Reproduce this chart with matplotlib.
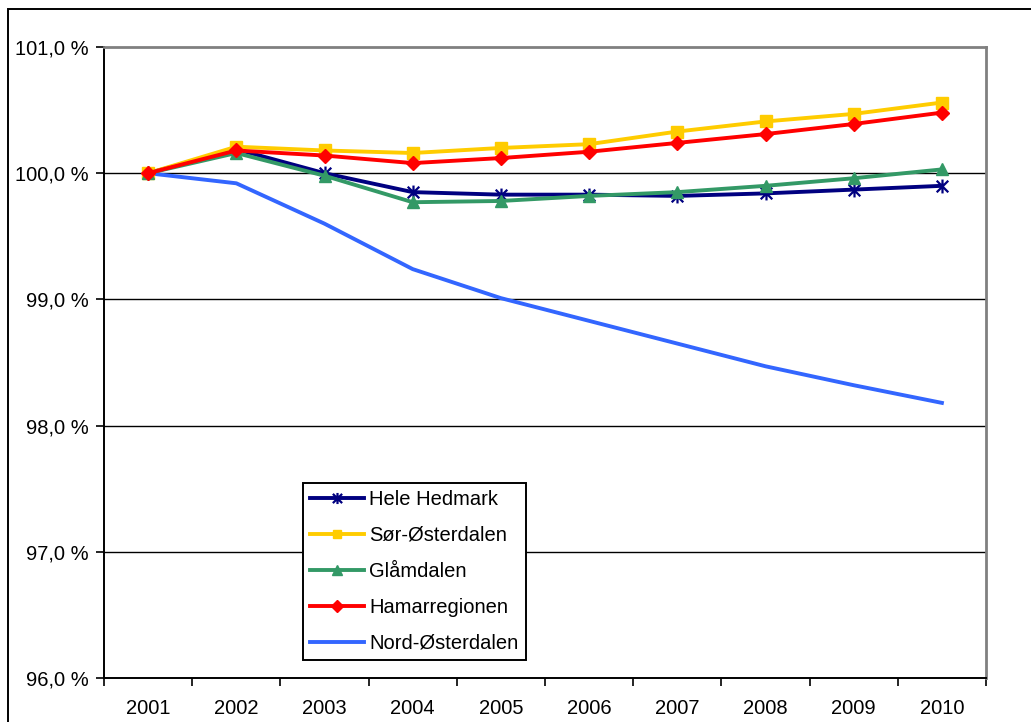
import numpy as np
import matplotlib
matplotlib.use("Agg")
import matplotlib.pyplot as plt
from matplotlib.patches import Rectangle
from matplotlib.path import Path
from matplotlib.ticker import FixedLocator, FuncFormatter

plt.rcParams['font.family'] = ['Liberation Sans', 'DejaVu Sans']

years = ['2001', '2002', '2003', '2004', '2005', '2006', '2007', '2008', '2009', '2010']

hele_hedmark = [100.00, 100.19, 100.00, 99.85, 99.83, 99.83, 99.82, 99.84, 99.87, 99.90]
sor_osterdalen = [100.00, 100.21, 100.18, 100.16, 100.20, 100.23, 100.33, 100.41, 100.47, 100.56]
glamdalen = [100.00, 100.16, 99.98, 99.77, 99.78, 99.82, 99.85, 99.90, 99.96, 100.03]
hamarregionen = [100.00, 100.18, 100.14, 100.08, 100.12, 100.17, 100.24, 100.31, 100.39, 100.48]
nord_osterdalen = [100.00, 99.92, 99.60, 99.24, 99.01, 98.83, 98.65, 98.47, 98.32, 98.18]

x = np.arange(len(years))

# star marker: an X with a vertical stroke through it
star = Path([(-1, -1), (1, 1), (-1, 1), (1, -1), (0, -1.2), (0, 1.2)],
            [Path.MOVETO, Path.LINETO, Path.MOVETO, Path.LINETO, Path.MOVETO, Path.LINETO])

fig = plt.figure(figsize=(10.31, 7.22), dpi=100)
ax = fig.add_axes([104 / 1031, 1 - 678 / 722, (986 - 104) / 1031, (678 - 47) / 722])

# outer chart border (cut off at right and bottom)
fig.patches.append(Rectangle((8 / 1031, -0.1), 1.2, (722 - 9) / 722 + 0.1,
                             transform=fig.transFigure, fill=False,
                             edgecolor='black', linewidth=1.4, clip_on=False))

for yv in [97, 98, 99, 100]:
    ax.axhline(yv, color='black', linewidth=1.0, zorder=1)

lw = 2.8
ax.plot(x, hele_hedmark, color='#000080', lw=lw, marker=star, ms=10, mew=1.6,
        label='Hele Hedmark', zorder=3)
ax.plot(x, sor_osterdalen, color='#FFCC00', lw=lw, marker='s', ms=8,
        label='Sør-Østerdalen', zorder=3)
ax.plot(x, glamdalen, color='#339966', lw=lw, marker='^', ms=9,
        label='Glåmdalen', zorder=3)
ax.plot(x, hamarregionen, color='#FF0000', lw=lw, marker='D', ms=7.5,
        label='Hamarregionen', zorder=3)
ax.plot(x, nord_osterdalen, color='#3366FF', lw=lw,
        label='Nord-Østerdalen', zorder=2)

ax.set_xlim(-0.5, len(years) - 0.5)
ax.set_ylim(96, 101)

ax.xaxis.set_major_locator(FixedLocator(np.arange(-0.5, len(years), 1.0)))
ax.xaxis.set_major_formatter(FuncFormatter(lambda v, p: ''))
ax.xaxis.set_minor_locator(FixedLocator(x))
ax.set_xticklabels(years, minor=True)
ax.tick_params(axis='x', which='major', direction='out', length=6, width=1.2)
ax.tick_params(axis='x', which='minor', length=0, pad=15, labelsize=14.5)

ax.set_yticks([96, 97, 98, 99, 100, 101])
ax.yaxis.set_major_formatter(FuncFormatter(lambda v, p: f'{v:.1f} %'.replace('.', ',')))
ax.tick_params(axis='y', direction='out', length=6, width=1.2, pad=5, labelsize=14.5)

ax.spines['left'].set_linewidth(1.4)
ax.spines['bottom'].set_linewidth(1.4)
ax.spines['top'].set_color('#808080')
ax.spines['top'].set_linewidth(2)
ax.spines['right'].set_color('#808080')
ax.spines['right'].set_linewidth(2)

leg = ax.legend(loc='upper left', bbox_to_anchor=(303 / 1031, 1 - 483 / 722),
                bbox_transform=fig.transFigure, fontsize=14.5, frameon=True,
                fancybox=False, edgecolor='black', framealpha=1,
                handlelength=2.7, handletextpad=0.25, labelspacing=0.84,
                borderpad=0.35, borderaxespad=0, markerscale=0.8)
leg.get_frame().set_linewidth(1.4)
for h in leg.get_lines():
    h.set_linewidth(2.8)

fig.savefig('out.png', dpi=100)
